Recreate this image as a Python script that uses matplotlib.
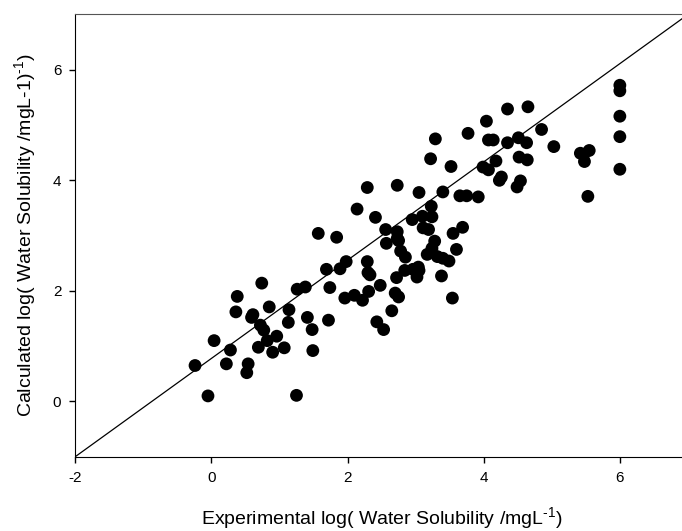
import matplotlib
matplotlib.use("Agg")
import matplotlib.pyplot as plt

plt.rcParams['font.family'] = ['Liberation Sans', 'DejaVu Sans']
plt.rcParams['axes.unicode_minus'] = False
plt.rcParams['mathtext.fontset'] = 'custom'
plt.rcParams['mathtext.rm'] = 'Liberation Sans'
plt.rcParams['mathtext.default'] = 'regular'

# experimental vs calculated log(water solubility)
exp_vals = [-0.24, -0.05, 0.04, 0.22, 0.28, 0.38, 0.36, 0.52, 0.54, 0.59,
            0.61, 0.69, 0.72, 0.74, 0.77, 0.82, 0.85, 0.90, 0.96, 1.07,
            1.13, 1.14, 1.25, 1.26, 1.38, 1.41, 1.48, 1.49, 1.57, 1.69,
            1.72, 1.74, 1.84, 1.89, 1.96, 1.98, 2.10, 2.14, 2.22, 2.29,
            2.29, 2.30, 2.31, 2.33, 2.41, 2.43, 2.48, 2.53, 2.56, 2.57,
            2.65, 2.70, 2.72, 2.73, 2.73, 2.73, 2.75, 2.75, 2.78, 2.85,
            2.84, 2.95, 2.96, 3.02, 3.04, 3.05, 3.05, 3.10, 3.11, 3.17,
            3.19, 3.22, 3.23, 3.24, 3.24, 3.28, 3.29, 3.32, 3.38, 3.40,
            3.40, 3.49, 3.52, 3.54, 3.55, 3.60, 3.65, 3.69, 3.75, 3.77,
            3.92, 3.99, 4.04, 4.07, 4.07, 4.14, 4.18, 4.23, 4.26, 4.35,
            4.35, 4.49, 4.51, 4.52, 4.54, 4.63, 4.64, 4.65, 4.85, 5.03,
            5.42, 5.47, 5.48, 5.55, 5.53, 6.00, 6.00, 6.00, 6.00, 6.00]
calc_vals = [0.65, 0.10, 1.10, 0.68, 0.93, 1.90, 1.62, 0.52, 0.68, 1.52,
             1.57, 0.98, 1.38, 2.14, 1.29, 1.10, 1.71, 0.89, 1.18, 0.97,
             1.43, 1.66, 0.11, 2.03, 2.07, 1.52, 1.30, 0.92, 3.04, 2.39,
             1.47, 2.06, 2.97, 2.40, 1.87, 2.53, 1.92, 3.48, 1.83, 2.53,
             3.87, 2.33, 1.99, 2.29, 3.33, 1.44, 2.10, 1.30, 3.11, 2.86,
             1.64, 1.96, 2.24, 3.91, 3.07, 2.95, 2.91, 1.89, 2.72, 2.61,
             2.37, 3.29, 2.39, 2.25, 2.43, 3.78, 2.37, 3.35, 3.14, 2.66,
             3.11, 4.39, 3.53, 3.34, 2.77, 2.90, 4.75, 2.62, 2.27, 3.79,
             2.59, 2.54, 4.25, 1.87, 3.04, 2.75, 3.72, 3.15, 3.72, 4.85,
             3.70, 4.24, 5.07, 4.19, 4.73, 4.73, 4.35, 4.00, 4.06, 5.29,
             4.68, 3.88, 4.77, 4.42, 3.99, 4.68, 4.37, 5.33, 4.92, 4.61,
             4.49, 4.47, 4.34, 4.54, 3.71, 5.72, 5.62, 5.16, 4.79, 4.20]

x_ticks = [-2, 0, 2, 4, 6]
y_ticks = [0, 2, 4, 6]

fig = plt.figure(figsize=(6.82, 5.31), dpi=100)
ax = fig.add_axes([0.1103, 0.1399, 0.8984, 0.8328])

ax.scatter(exp_vals, calc_vals, s=85, c='black', edgecolors='none', zorder=3)
# diagonal reference line (corner to corner of the plot box)
ax.plot([0, 1], [0, 1], transform=ax.transAxes, color='black', lw=0.9, zorder=2)

ax.set_xlim(-2, 7)
ax.set_ylim(-1, 7)
ax.set_xticks(x_ticks)
ax.set_yticks(y_ticks)
ax.tick_params(direction='out', length=4, width=1, labelsize=11, pad=6)
ax.spines['top'].set_color('#555555')
ax.spines['right'].set_visible(False)

ax.set_xlabel('Experimental log( Water Solubility /mgL$^{\u20101}$)', fontsize=14, labelpad=15)
ax.set_ylabel('Calculated log( Water Solubility /mgL-1)$^{\u20101}$)', fontsize=14, labelpad=11)

fig.savefig('out.png', dpi=100)
